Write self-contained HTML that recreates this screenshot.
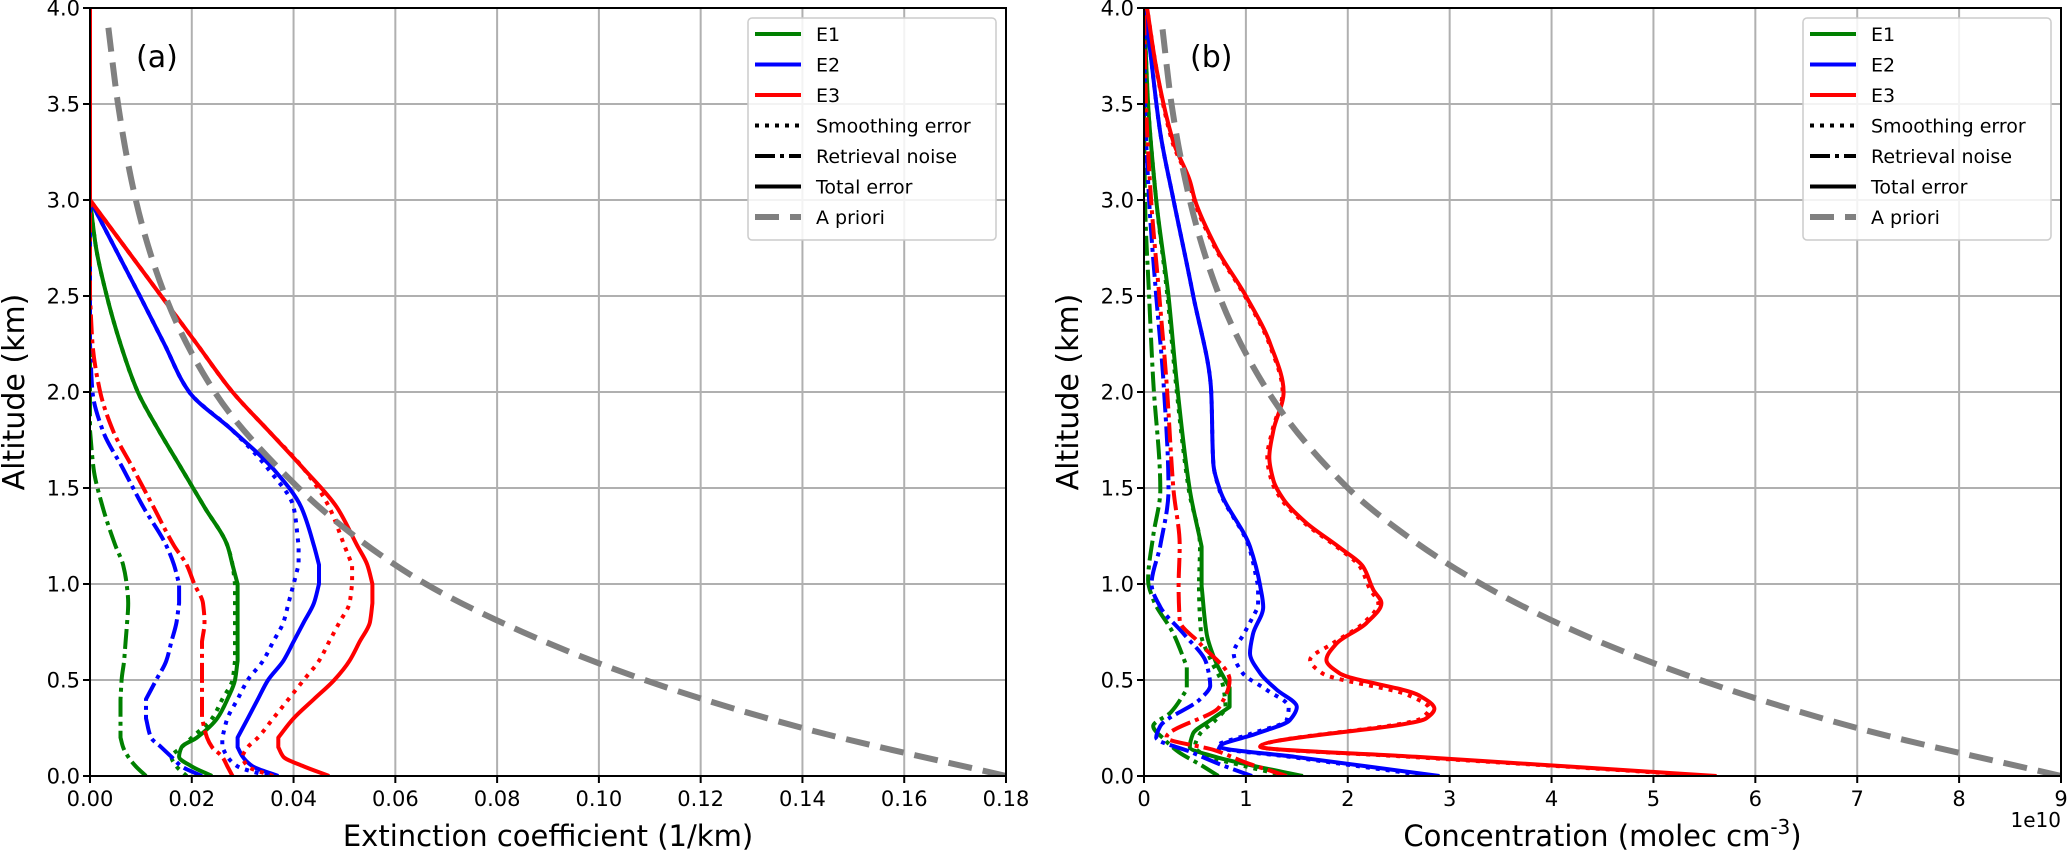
<!DOCTYPE html>
<html><head><meta charset="utf-8"><style>
html,body{margin:0;padding:0;background:#fff;}
svg{display:block;font-family:"DejaVu Sans","Liberation Sans",sans-serif;}
</style></head><body>
<svg id="fig" width="2067" height="853" viewBox="0 0 2067 853" xmlns="http://www.w3.org/2000/svg">
<rect width="2067" height="853" fill="#fff"/>
</svg>
<script>
// ---------- data: left panel (extinction, 1/km) ----------
const altA = [0,0.05,0.1,0.15,0.2,0.3,0.4,0.5,0.6,0.7,0.8,0.9,1.0,1.1,1.2,1.4,1.6,1.8,2.0,2.25,2.5,2.75,3.0,3.5,4.0];
const extE1Total = [0.024,0.020,0.0175,0.018,0.021,0.025,0.027,0.0285,0.029,0.029,0.029,0.029,0.029,0.028,0.027,0.0225,0.018,0.0135,0.0094,0.006,0.0033,0.0012,0,0,0];
const extE1Smooth = [0.019,0.017,0.016,0.018,0.020,0.024,0.026,0.028,0.0285,0.0285,0.0285,0.0285,0.0285,0.028,0.027,0.0225,0.018,0.0135,0.0094,0.006,0.0033,0.0012,0,0,0];
const extE1Noise = [0.011,0.009,0.0075,0.0065,0.006,0.006,0.006,0.0062,0.0067,0.007,0.0073,0.0075,0.0072,0.0065,0.005,0.0025,0.0007,0,0,0,0,0,0,0,0];
const extE2Total = [0.037,0.032,0.030,0.029,0.029,0.031,0.033,0.035,0.038,0.040,0.042,0.044,0.045,0.045,0.044,0.0415,0.036,0.028,0.0195,0.0146,0.0098,0.0049,0,0,0];
const extE2Smooth = [0.035,0.029,0.027,0.026,0.026,0.027,0.029,0.031,0.034,0.036,0.038,0.039,0.040,0.041,0.041,0.040,0.035,0.028,0.0195,0.0146,0.0098,0.0049,0,0,0];
const extE2Noise = [0.022,0.018,0.016,0.014,0.012,0.011,0.011,0.013,0.015,0.016,0.017,0.0175,0.0175,0.0165,0.015,0.0105,0.0065,0.0025,0.0005,0,0,0,0,0,0];
const extE3Total = [0.047,0.042,0.038,0.037,0.037,0.040,0.044,0.048,0.051,0.053,0.055,0.0555,0.0555,0.0545,0.0525,0.0485,0.042,0.035,0.028,0.021,0.014,0.007,0,0,0];
const extE3Smooth = [0.036,0.031,0.030,0.031,0.033,0.036,0.039,0.042,0.045,0.047,0.049,0.051,0.0515,0.0515,0.050,0.047,0.042,0.035,0.028,0.021,0.014,0.007,0,0,0];
const extE3Noise = [0.028,0.027,0.026,0.024,0.023,0.022,0.022,0.022,0.022,0.022,0.0225,0.0222,0.0205,0.019,0.0165,0.0125,0.0085,0.0045,0.002,0.0005,0,0,0,0,0];
const altPrior = [0,0.25,0.5,0.75,1.0,1.25,1.5,2.0,2.5,3.0,3.5,3.9];
const extPrior = [0.18,0.14,0.109,0.085,0.066,0.052,0.041,0.0245,0.0148,0.009,0.0055,0.0036];
const xTicksA = ["0.00","0.02","0.04","0.06","0.08","0.10","0.12","0.14","0.16","0.18"];
const yTicks = ["0.0","0.5","1.0","1.5","2.0","2.5","3.0","3.5","4.0"];

// ---------- data: right panel (concentration, 1e10 molec/cm3) ----------
const altE1R = [0,0.05,0.1,0.15,0.22,0.29,0.36,0.46,0.6,0.74,0.99,1.195,1.49,2.06,2.5,3.0,3.5,4.0];
const conE1Total = [1.56,1.1,0.7,0.45,0.48,0.65,0.84,0.84,0.7,0.615,0.565,0.565,0.45,0.32,0.24,0.12,0.04,0];
const conE1Smooth = [1.4,1.0,0.65,0.5,0.55,0.7,0.8,0.78,0.66,0.56,0.54,0.55,0.44,0.31,0.23,0.12,0.04,0];
const altE1NR = [0,0.06,0.125,0.19,0.26,0.33,0.45,0.57,0.74,0.92,1.02,1.25,1.49,2.06,2.5,3.0,3.5,4.0];
const conE1Noise = [0.73,0.55,0.34,0.2,0.09,0.26,0.42,0.42,0.29,0.09,0.04,0.09,0.16,0.09,0.05,0.01,0,0];
const altE2R = [0,0.05,0.1,0.152,0.22,0.29,0.36,0.45,0.535,0.64,0.74,0.88,0.99,1.195,1.49,1.63,2.0,2.51,3.0,3.35,3.78,4.0];
const conE2Total = [2.9,2.19,1.48,0.745,1.1,1.43,1.5,1.3,1.14,1.04,1.07,1.17,1.14,1.04,0.745,0.68,0.66,0.48,0.29,0.16,0.06,0.01];
const conE2Smooth = [2.8,2.12,1.43,0.71,1.05,1.4,1.42,1.2,0.97,0.88,0.98,1.12,1.12,1.03,0.74,0.68,0.66,0.48,0.29,0.16,0.06,0.01];
const altE2NR = [0,0.06,0.125,0.2,0.26,0.4,0.47,0.59,0.74,0.88,1.0,1.2,1.49,2.06,2.5,3.0,3.5,4.0];
const conE2Noise = [1.06,0.75,0.46,0.12,0.16,0.55,0.65,0.61,0.39,0.16,0.075,0.16,0.24,0.19,0.12,0.05,0.01,0];
const altE3R = [0,0.05,0.1,0.152,0.3,0.35,0.42,0.535,0.604,0.69,0.795,0.9,0.97,1.09,1.19,1.32,1.44,1.54,1.66,1.8,2.0,2.25,2.5,2.75,3.0,3.1,3.3,3.69,4.0];
const conE3Total = [5.62,4.15,2.67,1.14,2.77,2.85,2.7,1.92,1.79,1.89,2.18,2.33,2.25,2.15,1.92,1.59,1.37,1.27,1.23,1.27,1.37,1.24,1.0,0.71,0.50,0.45,0.29,0.12,0.03];
const conE3Smooth = [5.55,4.1,2.6,1.14,2.72,2.8,2.6,1.75,1.63,1.85,2.15,2.3,2.22,2.12,1.9,1.57,1.35,1.25,1.21,1.26,1.36,1.23,0.99,0.7,0.49,0.44,0.28,0.12,0.03];
const altE3NR = [0,0.07,0.135,0.2,0.36,0.5,0.69,0.81,0.99,1.2,1.49,2.06,2.5,3.0,3.5,4.0];
const conE3Noise = [1.4,1.0,0.69,0.22,0.74,0.84,0.55,0.35,0.34,0.35,0.29,0.22,0.15,0.07,0.02,0];
const conPrior = [9,7.0,5.46,4.25,3.31,2.58,2.0,1.22,0.74,0.45,0.27,0.18];
const xTicksB = ["0","1","2","3","4","5","6","7","8","9"];

const NS = "http://www.w3.org/2000/svg";
const svg = document.getElementById('fig');
function el(tag, attrs, parent){ const e=document.createElementNS(NS,tag); for(const k in attrs) e.setAttribute(k,attrs[k]); (parent||svg).appendChild(e); return e; }

const TOP=8, BOT=776;
const COLORS={E1:"#008000",E2:"#0000ff",E3:"#ff0000"};
const DASH={total:"",smooth:"4 6",noise:"20 5 4 5"};

// monotone cubic of x(y) where y (altitude pixel) is monotone
function monoPath(pts){
  const n=pts.length;
  const h=[],d=[];
  for(let i=0;i<n-1;i++){ h[i]=pts[i+1][1]-pts[i][1]; d[i]=(pts[i+1][0]-pts[i][0])/h[i]; }
  const m=[];
  m[0]=d[0]; m[n-1]=d[n-2];
  for(let i=1;i<n-1;i++){
    const a=d[i-1], b=d[i];
    if(Math.abs(a)<1e-9 && Math.abs(b)>1e-9) m[i]=b;
    else if(Math.abs(b)<1e-9 && Math.abs(a)>1e-9) m[i]=a;
    else if(a*b<=0) m[i]=0;
    else { const w1=2*h[i]+h[i-1], w2=h[i]+2*h[i-1]; m[i]=(w1+w2)/(w1/a+w2/b); }
  }
  let s="M"+pts[0][0].toFixed(1)+","+pts[0][1].toFixed(1);
  for(let i=0;i<n-1;i++){
    const y0=pts[i][1], y1=pts[i+1][1], x0=pts[i][0], x1=pts[i+1][0], dy=h[i];
    let m0=m[i], m1=m[i+1];
    if(Math.abs(d[i])<1e-9){ m0=0; m1=0; }
    s+=" C"+(x0+m0*dy/3).toFixed(1)+","+(y0+dy/3).toFixed(1)+" "+(x1-m1*dy/3).toFixed(1)+","+(y1-dy/3).toFixed(1)+" "+x1.toFixed(1)+","+y1.toFixed(1);
  }
  return s;
}

function panel(cfg){
  const g=el('g',{});
  
  
  const L=cfg.left, R=cfg.right;
  const xs=v=>L+(v-cfg.xmin)/(cfg.xmax-cfg.xmin)*(R-L);
  const ys=a=>BOT-a/4*(BOT-TOP);
  const clip=el('clipPath',{id:cfg.name+'-clip'},g);
  el('rect',{x:L,y:TOP,width:R-L,height:BOT-TOP},clip);
  const grid=el('g',{stroke:"#b0b0b0","stroke-width":2},g);
  
  
  cfg.xticks.forEach((t,i)=>{ const x=xs(cfg.xmin+i*cfg.xstep); el('line',{x1:x,x2:x,y1:TOP,y2:BOT},grid); });
  yTicks.forEach((t,i)=>{ const y=ys(i*0.5); el('line',{x1:L,x2:R,y1:y,y2:y},grid); });
  const plot=el('g',{"clip-path":"url(#"+cfg.name+"-clip)",fill:"none"},g);
  cfg.series.forEach(s=>{
    const pts=s.vals.map((v,i)=>[xs(v),ys(s.alt[i])]);
    const p=el('path',{d:monoPath(pts),stroke:s.color,"stroke-width":s.w||4,"stroke-dasharray":s.dash||"none","stroke-linejoin":"round"},plot);
    
    
  });
  el('rect',{x:L,y:TOP,width:R-L,height:BOT-TOP,fill:"none",stroke:"#000","stroke-width":2},g);
  const tk=el('g',{},g);
  
  
  cfg.xticks.forEach((t,i)=>{ const x=xs(cfg.xmin+i*cfg.xstep);
    el('line',{x1:x,x2:x,y1:BOT,y2:BOT+7,stroke:"#000","stroke-width":2},tk);
    const tx=el('text',{x:x,y:806,"font-size":21,"text-anchor":"middle",fill:"#000"},tk); tx.textContent=t; });
  yTicks.forEach((t,i)=>{ const y=ys(i*0.5);
    el('line',{x1:L-7,x2:L,y1:y,y2:y,stroke:"#000","stroke-width":2},tk);
    const tx=el('text',{x:L-10,y:y+7.5,"font-size":21,"text-anchor":"end",fill:"#000"},tk); tx.textContent=t; });
  const xl=el('text',{x:(L+R)/2,y:846,"font-size":29,"text-anchor":"middle",fill:"#000"},g);
  
  
  if(cfg.xlabelSup){ xl.textContent=cfg.xlabel; const sp=el('tspan',{"font-size":20,dy:-12},xl); sp.textContent=cfg.xlabelSup; const sp2=el('tspan',{dy:12},xl); sp2.textContent=")"; }
  else xl.textContent=cfg.xlabel;
  const yl=el('text',{x:0,y:0,"font-size":30,"text-anchor":"middle",fill:"#000",transform:"translate("+(L-66)+","+(TOP+BOT)/2+") rotate(-90)"},g);
  
  
  yl.textContent="Altitude (km)";
  if(cfg.offset){ const o=el('text',{x:R,y:827,"font-size":20,"text-anchor":"end",fill:"#000"},g);
    
    
    o.textContent=cfg.offset; }
  const pl=el('text',{x:L+46,y:67,"font-size":30,fill:"#000"},g);
  
  
  pl.textContent=cfg.tag;
  const lg=el('g',{},g);
  
  
  const bx=R-258, by=18;
  el('rect',{x:bx,y:by,width:248,height:222,rx:4,fill:"#fff","fill-opacity":0.85,stroke:"#cccccc","stroke-width":1.5},lg);
  const entries=[["E1",COLORS.E1,"",4],["E2",COLORS.E2,"",4],["E3",COLORS.E3,"",4],["Smoothing error","#000","4 6",4],["Retrieval noise","#000","20 5 4 5",4],["Total error","#000","",4],["A priori","#808080","24 11",6]];
  entries.forEach((e,i)=>{ const y=by+16+i*30.5;
    const row=el('g',{},lg);
    
    
    el('line',{x1:bx+7,x2:bx+53,y1:y,y2:y,stroke:e[1],"stroke-width":e[3],"stroke-dasharray":e[2]||"none"},row);
    const t=el('text',{x:bx+68,y:y+7,"font-size":19,fill:"#000"},row); t.textContent=e[0]; });
}

function mk(alt,vals,c,kind,label){ return {alt:alt,vals:vals,color:COLORS[c],dash:DASH[kind],label:label}; }

panel({name:"panel-a-extinction",tag:"(a)",left:90,right:1006,xmin:0,xmax:0.18,xstep:0.02,xticks:xTicksA,
  xlabel:"Extinction coefficient (1/km)",
  series:[
    mk(altA,extE1Smooth,"E1","smooth","e1-smoothing-line"),mk(altA,extE1Noise,"E1","noise","e1-noise-line"),mk(altA,extE1Total,"E1","total","e1-total-line"),
    mk(altA,extE2Smooth,"E2","smooth","e2-smoothing-line"),mk(altA,extE2Noise,"E2","noise","e2-noise-line"),mk(altA,extE2Total,"E2","total","e2-total-line"),
    mk(altA,extE3Smooth,"E3","smooth","e3-smoothing-line"),mk(altA,extE3Noise,"E3","noise","e3-noise-line"),mk(altA,extE3Total,"E3","total","e3-total-line"),
    {alt:altPrior,vals:extPrior,color:"#808080",dash:"24 11",w:6,label:"a-priori-line"}
  ]});
panel({name:"panel-b-concentration",tag:"(b)",left:1144,right:2061,xmin:0,xmax:9,xstep:1,xticks:xTicksB,
  xlabel:"Concentration (molec cm",xlabelSup:"-3",offset:"1e10",
  series:[
    mk(altE1R,conE1Smooth,"E1","smooth","e1-smoothing-line"),mk(altE1NR,conE1Noise,"E1","noise","e1-noise-line"),mk(altE1R,conE1Total,"E1","total","e1-total-line"),
    mk(altE2R,conE2Smooth,"E2","smooth","e2-smoothing-line"),mk(altE2NR,conE2Noise,"E2","noise","e2-noise-line"),mk(altE2R,conE2Total,"E2","total","e2-total-line"),
    mk(altE3R,conE3Smooth,"E3","smooth","e3-smoothing-line"),mk(altE3NR,conE3Noise,"E3","noise","e3-noise-line"),mk(altE3R,conE3Total,"E3","total","e3-total-line"),
    {alt:altPrior,vals:conPrior,color:"#808080",dash:"24 11",w:6,label:"a-priori-line"}
  ]});
</script>
</body></html>
